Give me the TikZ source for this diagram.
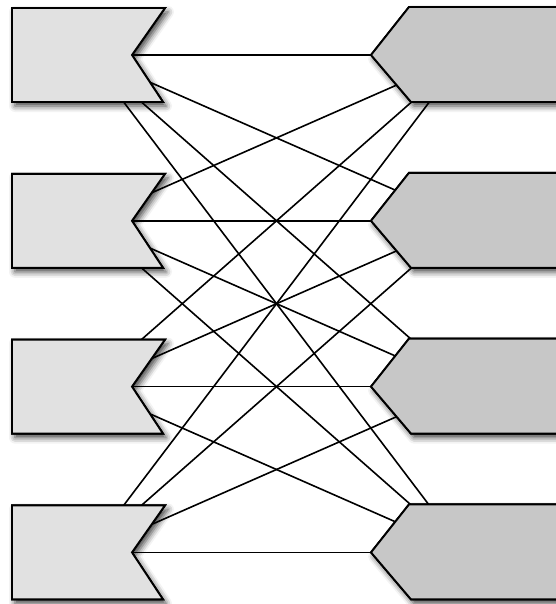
\documentclass[tikz,border=0pt]{standalone}
\usetikzlibrary{shadows.blur}
\definecolor{leftgray}{RGB}{225,225,225}
\definecolor{rightgray}{RGB}{199,199,199}
\begin{document}
\begin{tikzpicture}[x=1pt,y=-1pt,
  leftshape/.style={fill=leftgray, draw=black, line width=1.9pt, line join=miter},
  rightshape/.style={fill=rightgray, draw=black, line width=1.9pt, line join=miter},
  shad/.style={blur shadow={shadow xshift=3pt, shadow yshift=-4pt, shadow blur radius=6pt, shadow opacity=75}},
  conn/.style={draw=black, line width=1.6pt}]
\useasboundingbox (0,0) rectangle (555,604);
% shapes with shadows (first pass)
\foreach \i/\c in {1/55,2/220.8,3/386.6,4/552.4}{
  \coordinate (L\i) at (88,\c);
  \coordinate (R\i) at (465,\c);
  \path[leftshape, shad] (12,\c-47) -- (165,\c-47) -- (132,\c) -- (163,\c+47) -- (12,\c+47) -- cycle;
  \path[rightshape, shad] (371,\c) -- (409,\c-48) -- (575,\c-48) -- (575,\c+47) -- (411,\c+47) -- cycle;
}
% connectors
\foreach \i in {1,...,4}{
  \foreach \j in {1,...,4}{
    \draw[conn] (L\i) -- (R\j);
  }
}
% shapes again on top of connectors
\foreach \i/\c in {1/55,2/220.8,3/386.6,4/552.4}{
  \path[leftshape] (12,\c-47) -- (165,\c-47) -- (132,\c) -- (163,\c+47) -- (12,\c+47) -- cycle;
  \path[rightshape] (371,\c) -- (409,\c-48) -- (575,\c-48) -- (575,\c+47) -- (411,\c+47) -- cycle;
}
\end{tikzpicture}
\end{document}
